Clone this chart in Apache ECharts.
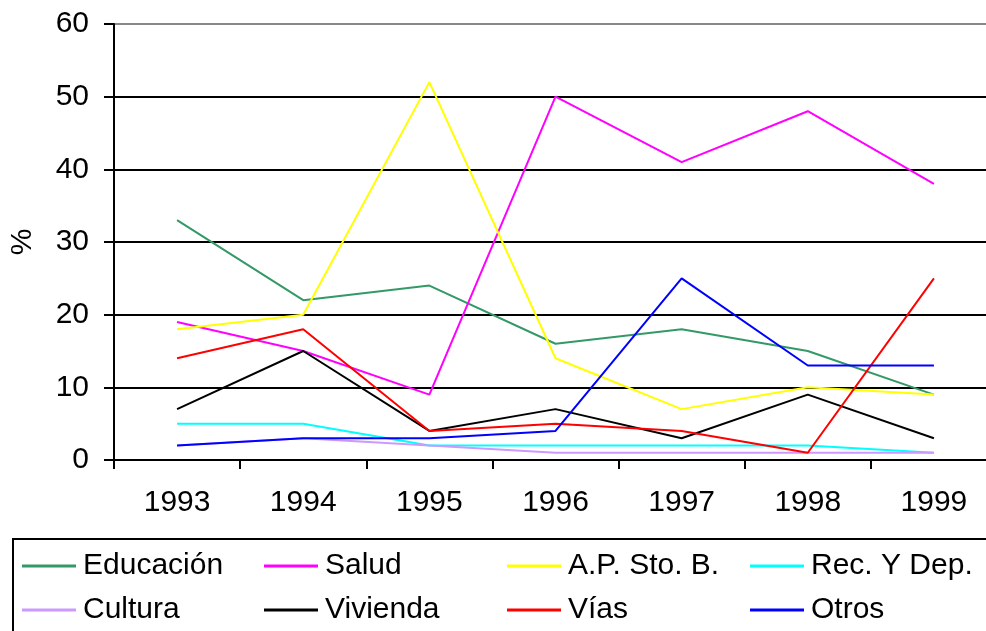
<!DOCTYPE html>
<html>
<head>
<meta charset="utf-8">
<script src="https://cdn.jsdelivr.net/npm/echarts@6/dist/echarts.min.js"></script>
<style>
  html, body { margin: 0; padding: 0; background: #fff; overflow: hidden; }
  #chart { width: 1000px; height: 631px; }
</style>
</head>
<body>
<div id="chart"></div>
<script>
const years = ['1993', '1994', '1995', '1996', '1997', '1998', '1999'];

const educacion = [33, 22, 24, 16, 18, 15, 9];
const salud = [19, 15, 9, 50, 41, 48, 38];
const apSto = [18, 20, 52, 14, 7, 10, 9];
const recDep = [5, 5, 2, 2, 2, 2, 1];
const cultura = [2, 3, 2, 1, 1, 1, 1];
const vivienda = [7, 15, 4, 7, 3, 9, 3];
const vias = [14, 18, 4, 5, 4, 1, 25];
const otros = [2, 3, 3, 4, 25, 13, 13];

const font = 'Liberation Sans, Arial, sans-serif';

const chart = echarts.init(document.getElementById('chart'));

// one line series per item
const mk = (name, data, color) => ({
    name: name,
    type: 'line',
    data: data,
    symbol: 'none',
    lineStyle: { color: color, width: 2 },
    itemStyle: { color: color },
    animation: false
});

// one legend per entry so the 4x2 grid sits like the original
const legendItem = (name, left, top) => ({
    left: left,
    top: top,
    padding: 0,
    itemWidth: 54,
    itemHeight: 3,
    icon: 'rect',
    data: [name],
    textStyle: { fontFamily: font, fontSize: 30, lineHeight: 30, color: '#000', padding: [0, 0, 0, 2] },
    selectedMode: false
});

const option = {
    backgroundColor: '#fff',
    animation: false,
    grid: { left: 112, top: 24, right: 3, height: 436 },
    legend: [
        legendItem('Educación', 22, 551),
        legendItem('Salud', 264, 551),
        legendItem('A.P. Sto. B.', 507, 551),
        legendItem('Rec. Y Dep.', 750, 551),
        legendItem('Cultura', 22, 595),
        legendItem('Vivienda', 264, 595),
        legendItem('Vías', 507, 595),
        legendItem('Otros', 750, 595)
    ],
    graphic: [{
        type: 'rect',
        shape: { x: 13, y: 539, width: 1000, height: 110 },
        style: { fill: 'none', stroke: '#000', lineWidth: 2 },
        z: -1
    }],
    xAxis: {
        type: 'category',
        data: years,
        boundaryGap: true,
        axisLine: { lineStyle: { color: '#000', width: 2 } },
        axisTick: { show: true, length: 9, lineStyle: { color: '#000', width: 2 } },
        axisLabel: { fontFamily: font, fontSize: 30, color: '#000', margin: 28 }
    },
    yAxis: {
        type: 'value',
        min: 0,
        max: 60,
        interval: 10,
        name: '%',
        nameLocation: 'middle',
        nameRotate: 90,
        nameGap: 76,
        nameTextStyle: { fontFamily: font, fontSize: 30, color: '#000' },
        axisLine: { show: true, lineStyle: { color: '#000', width: 2 } },
        axisTick: { show: true, length: 10, lineStyle: { color: '#000', width: 2 } },
        axisLabel: { fontFamily: font, fontSize: 30, color: '#000', margin: 25 },
        splitLine: {
            show: true,
            lineStyle: {
                color: ['#000', '#000', '#000', '#000', '#000', '#000', '#888'],
                width: 2
            }
        }
    },
    series: [
        mk('Educación', educacion, '#339966'),
        mk('Salud', salud, '#FF00FF'),
        mk('A.P. Sto. B.', apSto, '#FFFF00'),
        mk('Rec. Y Dep.', recDep, '#00FFFF'),
        mk('Cultura', cultura, '#CC99FF'),
        mk('Vivienda', vivienda, '#000000'),
        mk('Vías', vias, '#FF0000'),
        mk('Otros', otros, '#0000FF')
    ]
};

if (option && typeof option === 'object') {
    chart.setOption(option);
}
</script>
</body>
</html>
